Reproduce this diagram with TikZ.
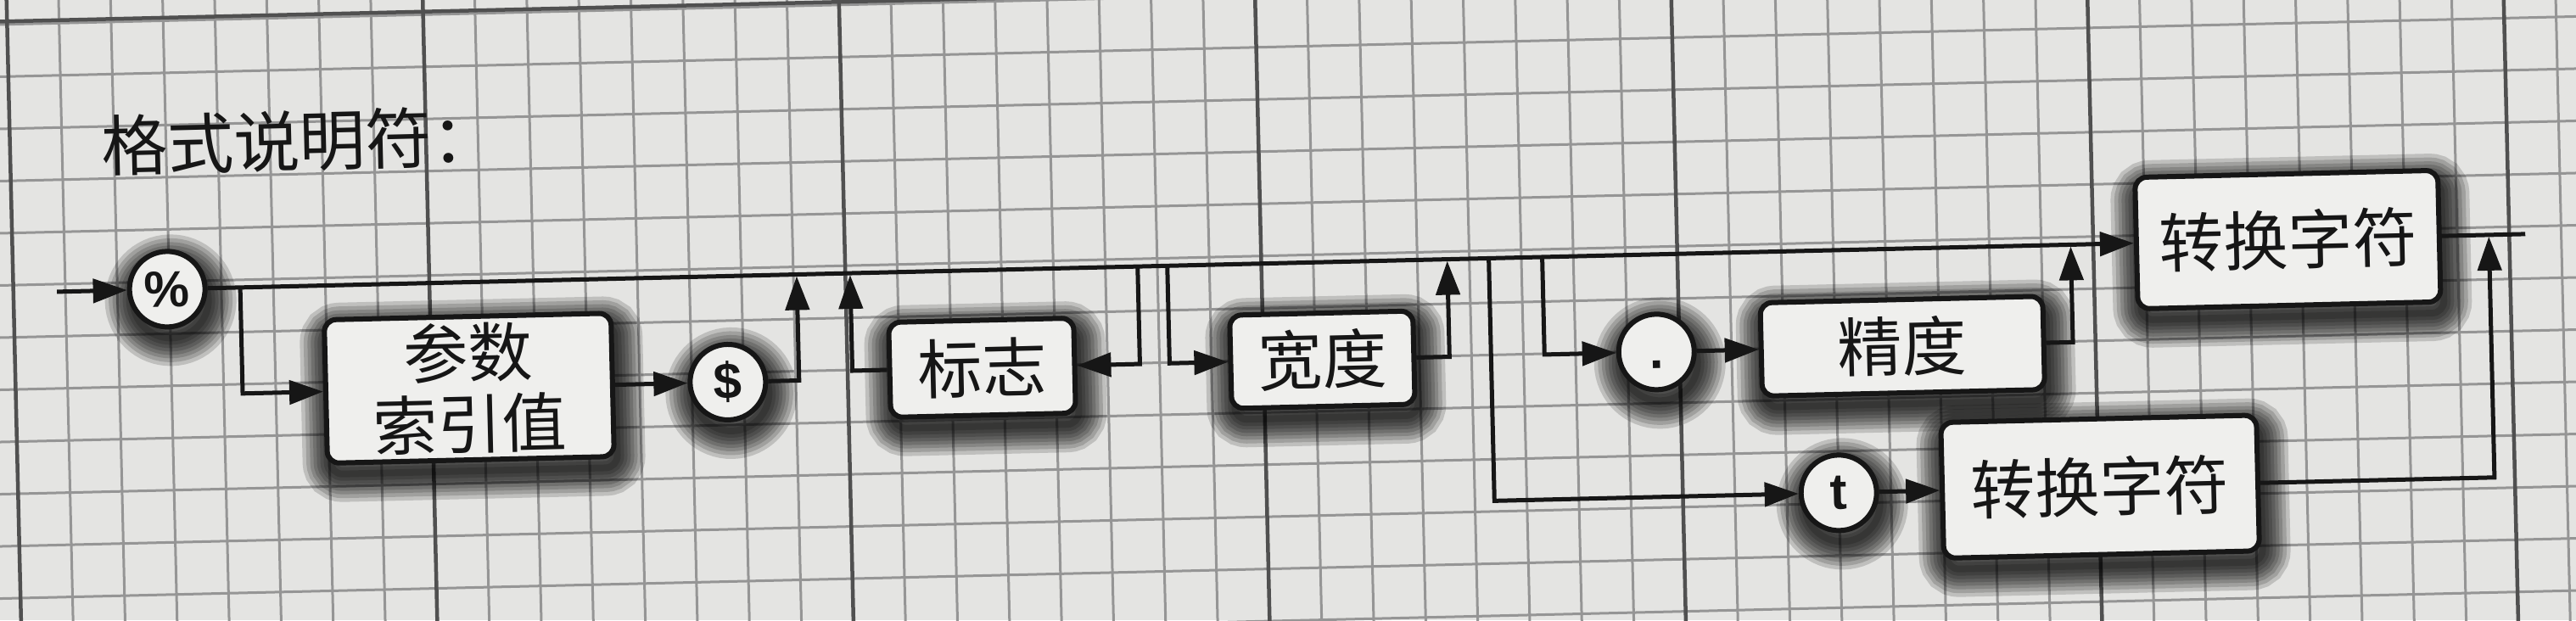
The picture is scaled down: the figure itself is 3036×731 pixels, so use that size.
\documentclass[tikz,border=0pt]{standalone}
\usepackage{fontspec}
\newfontfamily\cjk{Noto Sans CJK SC}
\newfontfamily\latf{Liberation Sans}
\usetikzlibrary{arrows.meta}
\definecolor{paper}{HTML}{E4E4E2}
\definecolor{gridc}{HTML}{959595}
\definecolor{gridd}{HTML}{505050}
\definecolor{boxfill}{HTML}{EFEFED}
\definecolor{ink}{HTML}{161616}
\begin{document}
\begin{tikzpicture}[x=1pt,y=-1pt,
  conn/.style={draw=ink, line width=5pt},
  arr/.style={conn, -{Triangle[length=40pt,width=28pt]}},
  sl/.style={preaction={draw=black, fill=none, draw opacity=0.16, line width=#1, transform canvas={xshift=4pt, yshift=-13pt}}},
  shad/.style={sl=66pt, sl=57pt, sl=48pt, sl=40pt, sl=32pt, sl=24pt, sl=16pt, sl=8pt},
  boxsty/.style={shad, draw=ink, line width=6pt, fill=boxfill, rounded corners=14pt, inner sep=0pt,
    font=\cjk\fontsize{76}{84}\selectfont, text=ink, align=center},
  termsty/.style={shad, circle, draw=ink, line width=6pt, fill=boxfill, minimum size=89pt, inner sep=0pt,
    font=\latf\bfseries\fontsize{60}{60}\selectfont, text=ink},
  thinline/.style={draw=gridc, line width=3pt},
  thickline/.style={draw=gridd, line width=4.5pt},
]
\useasboundingbox (0,0) rectangle (3036,731);
\fill[paper] (0,0) rectangle (3036,731);
\begin{scope}
\clip (0,0) rectangle (3036,731);
\begin{scope}[rotate around={1.34:(1518,365)}, transform shape]
  % grid paper
  \foreach \i in {-3,...,53} \draw[thinline] ({16.6+61.3*\i},-120) -- ({16.6+61.3*\i},860);
  \foreach \j in {-3,...,14} \draw[thinline] (-120,{55+61.5*\j}) -- (3160,{55+61.5*\j});
  \foreach \i in {0,8,...,48} \draw[thickline] ({16.6+61.3*\i},-120) -- ({16.6+61.3*\i},860);
  \draw[thickline] (-120,-10) -- (3160,-10);

  % title
  \node[anchor=west, font=\cjk\fontsize{78}{80}\selectfont, text=ink, inner sep=0pt] (title) at (124,139) {格式说明符：};

  % nodes
  \node[termsty] (pct) at (198,310) {\%};
  \node[boxsty, minimum width=338pt, minimum height=169pt] (param) at (551,435) {参数\\索引值};
  \node[termsty] (dollar) at (856,435) {\$};
  \node[boxsty, minimum width=218pt, minimum height=112pt] (flags) at (1156,425) {标志};
  \node[boxsty, minimum width=216pt, minimum height=110pt] (width) at (1557,425) {宽度};
  \node[termsty] (dot) at (1951,425) {\vphantom{t}.};
  \node[boxsty, minimum width=333pt, minimum height=110pt] (prec) at (2241,425) {精度};
  \node[boxsty, minimum width=357pt, minimum height=155pt] (conv1) at (2698,310) {转换字符};
  \node[termsty] (tnode) at (2162,596) {t};
  \node[boxsty, minimum width=372pt, minimum height=160pt] (conv2) at (2470,596) {转换字符};

  % junction points
  \coordinate (start) at (68,310);
  \coordinate (j1) at (284,310);
  \coordinate (j2) at (940,312);
  \coordinate (j3) at (1342,310);
  \coordinate (j4) at (1003,312);
  \coordinate (j5) at (1377,310);
  \coordinate (j6) at (1707,312);
  \coordinate (j7) at (1756,310);
  \coordinate (j8) at (1819,310);
  \coordinate (j9) at (2442,312);
  \coordinate (exit) at (2978,310);
  \coordinate (j10) at (2935,312);

  % connectors
  \draw[arr] (start) -- (pct.west);
  \draw[arr] (pct.east) -- (conv1.west);
  \draw[arr] (j1) |- (param.west);
  \draw[arr] (param.east) -- (dollar.west);
  \draw[arr] (dollar.east) -| (j2);
  \draw[arr] (j3) |- (flags.east);
  \draw[arr] (flags.west) -| (j4);
  \draw[arr] (j5) |- (width.west);
  \draw[arr] (width.east) -| (j6);
  \draw[arr] (j7) |- (tnode.west);
  \draw[arr] (j8) |- (dot.west);
  \draw[arr] (dot.east) -- (prec.west);
  \draw[arr] (prec.east) -| (j9);
  \draw[conn] (conv1.east) -- (exit);
  \draw[arr] (tnode.east) -- (conv2.west);
  \draw[arr] (conv2.east) -| (j10);
\end{scope}
\end{scope}
\end{tikzpicture}
\end{document}
